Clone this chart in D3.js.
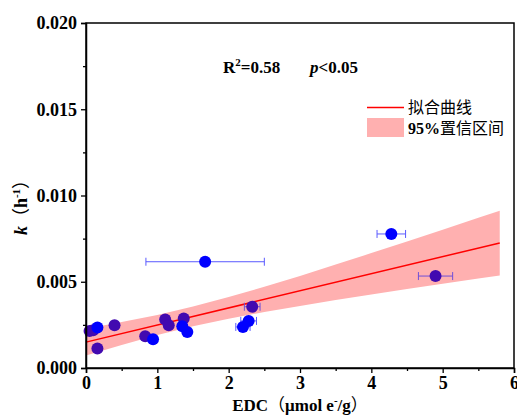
<!DOCTYPE html>
<html>
<head>
<meta charset="utf-8">
<script src="https://cdn.jsdelivr.net/npm/d3@7"></script>
<style>
  body { margin: 0; background: #fff; }
  svg text { font-family: "Liberation Serif", "Times New Roman", serif; }
  .tick text { font-weight: bold; font-size: 18px; }
  .cjk { font-family: "Noto Sans CJK SC", sans-serif; }
</style>
</head>
<body>
<svg width="517" height="416"></svg>
<script>
// purple series
var purpleX = [0.05, 0.10, 0.16, 0.40, 0.83, 1.11, 1.16, 1.37, 2.33, 4.90];
var purpleY = [0.00215, 0.00219, 0.00113, 0.00248, 0.00184, 0.00281, 0.00248, 0.00287, 0.00355, 0.00533];
var purpleErr = [0.02, 0.02, 0.02, 0.03, 0.04, 0.03, 0.03, 0.03, 0.11, 0.24];

// blue series
var blueX = [0.16, 0.94, 1.35, 1.42, 2.20, 2.28, 1.67, 4.28];
var blueY = [0.00235, 0.00167, 0.00242, 0.00209, 0.00238, 0.00273, 0.00616, 0.00777];
var blueErr = [0.02, 0.03, 0.03, 0.03, 0.10, 0.11, 0.83, 0.20];

// fitted line and 95% band
var fitX = [0, 5.8];
var fitY = [0.0015, 0.00725];
var bandX  = [0, 0.5, 1, 1.5, 2, 2.5, 3, 3.5, 4, 4.5, 5, 5.5, 5.8];
var bandHi = [0.00228, 0.00266, 0.00307, 0.00356, 0.00411, 0.00471, 0.00534, 0.00600, 0.00666, 0.00734, 0.00802, 0.00871, 0.00912];
var bandLo = [0.00072, 0.00134, 0.00191, 0.00242, 0.00285, 0.00325, 0.00360, 0.00394, 0.00426, 0.00458, 0.00488, 0.00519, 0.00536];

var xTicks = [0, 1, 2, 3, 4, 5, 6];
var yTicks = [0, 0.005, 0.010, 0.015, 0.020];

var svg = d3.select("svg");
var mLeft = 86, mRight = 514, mTop = 23, mBottom = 368;

var x = d3.scaleLinear().domain([0, 6]).range([mLeft, mRight]);
var y = d3.scaleLinear().domain([0, 0.02]).range([mBottom, mTop]);

// band
var band = bandX.map(function(d, i) { return [d, bandLo[i], bandHi[i]]; });
svg.append("path")
    .datum(band)
    .attr("fill", "#ffb0b0")
    .attr("d", d3.area()
      .x(function(d) { return x(d[0]); })
      .y0(function(d) { return y(d[1]); })
      .y1(function(d) { return y(d[2]); }));

// fit line
svg.append("path")
    .datum(fitX.map(function(d, i) { return [d, fitY[i]]; }))
    .attr("fill", "none")
    .attr("stroke", "#ff0000")
    .attr("stroke-width", 1.5)
    .attr("d", d3.line()
      .x(function(d) { return x(d[0]); })
      .y(function(d) { return y(d[1]); }));

function drawSeries(xs, ys, errs, color, barColor) {
  var data = xs.map(function(d, i) { return { x: d, y: ys[i], e: errs[i] }; });
  var g = svg.append("g");
  var eb = g.selectAll(".eb").data(data).enter().append("g")
      .attr("stroke", barColor).attr("stroke-width", 1);
  eb.append("line")
      .attr("x1", function(d) { return x(d.x - d.e); })
      .attr("x2", function(d) { return x(d.x + d.e); })
      .attr("y1", function(d) { return y(d.y); })
      .attr("y2", function(d) { return y(d.y); });
  eb.append("line")
      .attr("x1", function(d) { return x(d.x - d.e); })
      .attr("x2", function(d) { return x(d.x - d.e); })
      .attr("y1", function(d) { return y(d.y) - 4; })
      .attr("y2", function(d) { return y(d.y) + 4; });
  eb.append("line")
      .attr("x1", function(d) { return x(d.x + d.e); })
      .attr("x2", function(d) { return x(d.x + d.e); })
      .attr("y1", function(d) { return y(d.y) - 4; })
      .attr("y2", function(d) { return y(d.y) + 4; });
  g.selectAll("circle").data(data).enter().append("circle")
      .attr("cx", function(d) { return x(d.x); })
      .attr("cy", function(d) { return y(d.y); })
      .attr("r", 6)
      .attr("fill", color);
}

drawSeries(purpleX, purpleY, purpleErr, "#420ab0", "#7050d8");
drawSeries(blueX, blueY, blueErr, "#0000ff", "#5a5aff");

// axes
svg.append("g")
    .attr("transform", "translate(0," + mBottom + ")")
    .call(d3.axisBottom(x).tickValues(xTicks).tickSize(5).tickPadding(3).tickFormat(d3.format("d")));
svg.append("g")
    .attr("transform", "translate(0," + mBottom + ")")
    .call(d3.axisBottom(x).tickValues(d3.range(0.5, 6, 1)).tickSize(3).tickFormat(""))
    .select(".domain").remove();

svg.append("g")
    .attr("transform", "translate(" + mLeft + ",0)")
    .call(d3.axisLeft(y).tickValues(yTicks).tickSize(5).tickPadding(4).tickFormat(d3.format(".3f")));
svg.append("g")
    .attr("transform", "translate(" + mLeft + ",0)")
    .call(d3.axisLeft(y).tickValues([0.0025, 0.0075, 0.0125, 0.0175]).tickSize(3).tickFormat(""))
    .select(".domain").remove();

svg.selectAll(".tick line").attr("stroke", "#000").attr("stroke-width", 1.3);
svg.selectAll(".tick text").attr("fill", "#000");

// frame
svg.append("rect")
    .attr("x", mLeft).attr("y", mTop)
    .attr("width", mRight - mLeft).attr("height", mBottom - mTop)
    .attr("fill", "none").attr("stroke", "#000").attr("stroke-width", 1.5);
svg.selectAll(".domain").attr("stroke", "#000").attr("stroke-width", 1.5);

// annotation
var ann = svg.append("text")
    .attr("x", 223).attr("y", 73)
    .attr("font-size", "17px").attr("font-weight", "bold");
ann.append("tspan").text("R");
ann.append("tspan").attr("font-size", "11px").attr("dy", -7).text("2");
ann.append("tspan").attr("dy", 7).text("=0.58");
ann.append("tspan").attr("x", 310).attr("font-style", "italic").text("p");
ann.append("tspan").text("<0.05");

// legend
svg.append("line")
    .attr("x1", 367).attr("x2", 404).attr("y1", 107.5).attr("y2", 107.5)
    .attr("stroke", "#ff0000").attr("stroke-width", 1.5);
svg.append("text")
    .attr("class", "cjk")
    .attr("x", 408).attr("y", 113)
    .attr("font-size", "16px")
    .text("拟合曲线");
svg.append("rect")
    .attr("x", 367).attr("y", 118).attr("width", 37).attr("height", 19)
    .attr("fill", "#ffb0b0");
var l2 = svg.append("text")
    .attr("x", 408).attr("y", 134)
    .attr("font-size", "16px");
l2.append("tspan").attr("font-weight", "bold").text("95%");
l2.append("tspan").attr("class", "cjk").text("置信区间");

// axis titles
var xt = svg.append("text")
    .attr("x", 300).attr("y", 411)
    .attr("text-anchor", "middle")
    .attr("font-size", "17px").attr("font-weight", "bold");
xt.append("tspan").text("EDC");
xt.append("tspan").attr("class", "cjk").attr("font-weight", "normal").text("（");
xt.append("tspan").text("μmol e");
xt.append("tspan").attr("font-size", "11px").attr("dy", -7).text("-");
xt.append("tspan").attr("dy", 7).text("/g");
xt.append("tspan").attr("class", "cjk").attr("font-weight", "normal").text("）");

var yt = svg.append("text")
    .attr("transform", "translate(27,203) rotate(-90)")
    .attr("text-anchor", "middle")
    .attr("font-size", "18px").attr("font-weight", "bold");
yt.append("tspan").attr("font-style", "italic").text("k");
yt.append("tspan").attr("class", "cjk").attr("font-weight", "normal").text("（");
yt.append("tspan").text("h");
yt.append("tspan").attr("font-size", "11px").attr("dy", -7).text("-1");
yt.append("tspan").attr("dy", 7).attr("class", "cjk").attr("font-weight", "normal").text("）");
</script>
</body>
</html>
